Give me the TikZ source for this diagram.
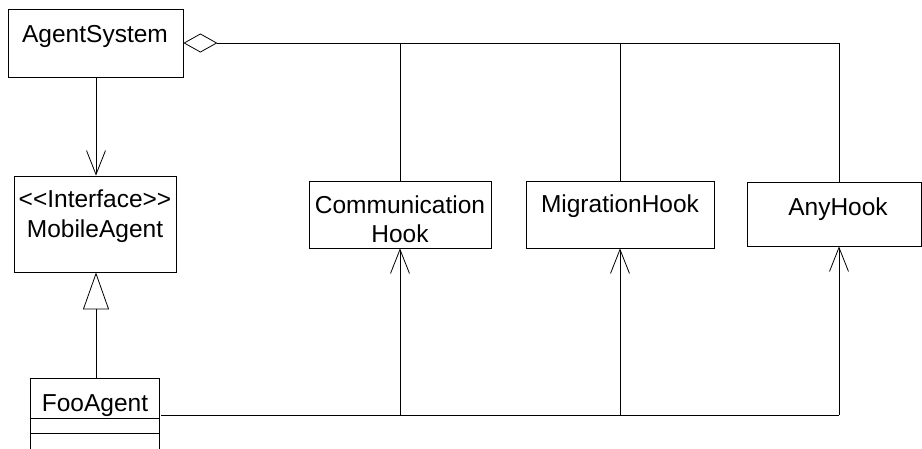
\documentclass[tikz,border=0pt]{standalone}
\usepackage{fontspec}
\setmainfont{Liberation Sans}
\usetikzlibrary{arrows.meta}
\tikzset{
  umlbox/.style={draw, line width=0.8pt, inner sep=0pt, rectangle},
  lbl/.style={anchor=base, inner sep=0pt, font=\fontsize{24.5}{29}\selectfont},
  conn/.style={line width=0.8pt},
  barb/.style={-{Straight Barb[length=24pt,width=19pt,line width=0.8pt]}},
  inherit/.style={-{Triangle[open,length=37pt,width=26pt,line width=0.8pt]}},
  aggr/.style={{Diamond[open,length=34pt,width=19pt,line width=0.8pt]}-},
}
\begin{document}
\begin{tikzpicture}[x=1pt,y=-1pt]
\useasboundingbox (0,0) rectangle (922,448);
\clip (0,0) rectangle (922,448);
\fill[white] (0,0) rectangle (922,448);

% boxes
\node[umlbox, minimum width=175pt, minimum height=68pt] (as) at (95.5,43) {};
\node[umlbox, minimum width=162pt, minimum height=96pt] (ma) at (95,224) {};
\node[umlbox, minimum width=129pt, minimum height=90pt] (foo) at (94.5,423) {};
\node[umlbox, minimum width=182pt, minimum height=67pt] (comm) at (400,214.5) {};
\node[umlbox, minimum width=188pt, minimum height=67pt] (mig) at (620,214.5) {};
\node[umlbox, minimum width=174pt, minimum height=64pt] (any) at (834,214) {};

% texts
\node[lbl] (tas) at (95,42) {AgentSystem};
\node[lbl] (tma1) at (95,207) {{<}{<}Interface{>}{>}};
\node[lbl] (tma2) at (95,237) {MobileAgent};
\node[lbl] (tfoo) at (95,411) {FooAgent};
\node[lbl] (tc1) at (400,213) {Communication};
\node[lbl] (tc2) at (400,242) {Hook};
\node[lbl] (tmig) at (620,212) {MigrationHook};
\node[lbl] (tany) at (838,215) {AnyHook};

% FooAgent compartments
\draw[line width=0.8pt] (foo.west |- 0,418) -- (foo.east |- 0,418);
\draw[line width=0.8pt] (foo.west |- 0,433) -- (foo.east |- 0,433);

% coordinates
\coordinate (anytop) at ([xshift=5pt]any.north);
\coordinate (anybot) at ([xshift=5pt]any.south);
\coordinate (fa) at (161,415);

% aggregation
\draw[conn, aggr] (as.east) -- (as.east -| anytop) -- (anytop);
\draw[conn] (as.east -| comm.north) -- (comm.north);
\draw[conn] (as.east -| mig.north) -- (mig.north);

% navigability AgentSystem -> MobileAgent
\draw[conn, barb] ([xshift=0.5pt]as.south) -- ([xshift=1pt]ma.north);

% inheritance
\draw[conn, inherit] ([xshift=1.5pt]foo.north) -- ([xshift=1pt]ma.south);

% FooAgent associations
\draw[conn] (fa) -- (fa -| anybot);
\draw[conn, barb] (fa -| comm.south) -- (comm.south);
\draw[conn, barb] (fa -| mig.south) -- (mig.south);
\draw[conn, barb] (fa -| anybot) -- (anybot);
\end{tikzpicture}
\end{document}
